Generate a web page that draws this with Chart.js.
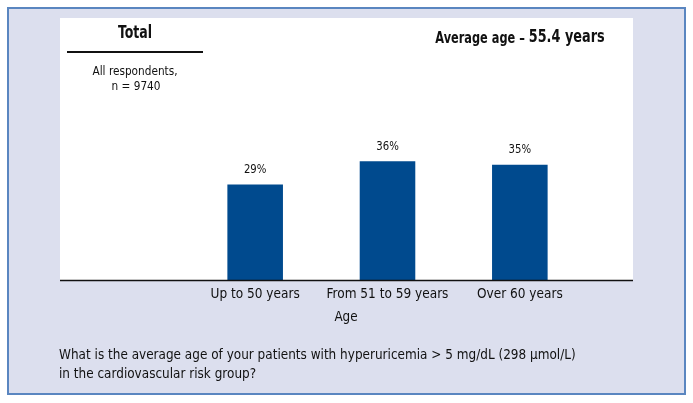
<!DOCTYPE html>
<html>
<head>
<meta charset="utf-8">
<script src="https://cdn.jsdelivr.net/npm/chart.js@4.4.1/dist/chart.umd.min.js"></script>
<style>
  html, body { margin: 0; padding: 0; background: #ffffff; }
  #wrap { width: 693px; height: 403px; position: relative; }
</style>
</head>
<body>
<div id="wrap"><canvas id="ageChart" width="693" height="403"></canvas></div>
<script>
// values
const ageGroups = ['Up to 50 years', 'From 51 to 59 years', 'Over 60 years'];
const shareOfPatients = [29, 36, 35];
const axisTitle = 'Age';
const panelTitle = 'Total';
const panelNote = ['All respondents,', 'n = 9740'];
const averageLabel = ['Average age \u2013 ', '55.4 years'];
const questionLines = [
    'What is the average age of your patients with hyperuricemia > 5 mg/dL (298 \u03bcmol/L)',
    'in the cardiovascular risk group?'
];

const fontFam = "'Liberation Sans Narrow', 'DejaVu Sans Condensed', 'Arial Narrow', sans-serif";
const barBlue = '#004a8e';
const lavender = '#dcdfee';

Chart.defaults.font.family = fontFam;
Chart.defaults.color = '#1a1a1a';

// text squeezed horizontally, the original uses a narrow face
function narrowText(c, txt, x, y, font, squeeze, align) {
    c.save();
    c.font = font;
    const w = c.measureText(txt).width * squeeze;
    let left = x;
    if (align === 'center') left = x - w / 2;
    c.translate(left, y);
    c.scale(squeeze, 1);
    c.textAlign = 'left';
    c.fillText(txt, 0, 0);
    c.restore();
    return w;
}

// frame, white panel, baseline and the free text around the plot
const frame = {
    id: 'frame',
    beforeDraw(chart) {
        const c = chart.ctx;
        c.save();
        c.fillStyle = '#ffffff';
        c.fillRect(0, 0, chart.width, chart.height);
        c.fillStyle = lavender;
        c.fillRect(8, 8, 677, 386);
        c.strokeStyle = '#5a86c0';
        c.lineWidth = 2;
        c.strokeRect(8, 8, 677, 386);
        c.fillStyle = '#ffffff';
        c.fillRect(60, 18, 573, 262);
        c.restore();
    },
    afterDraw(chart) {
        const c = chart.ctx;
        c.save();
        // baseline
        c.strokeStyle = '#111';
        c.lineWidth = 1.5;
        c.beginPath();
        c.moveTo(60, 280.5);
        c.lineTo(633, 280.5);
        c.stroke();
        // rule under "Total"
        c.lineWidth = 2;
        c.beginPath();
        c.moveTo(67, 52);
        c.lineTo(203, 52);
        c.stroke();

        c.fillStyle = '#111';
        c.textBaseline = 'middle';
        narrowText(c, panelTitle, 135, 34, 'bold 17px ' + fontFam, 0.82, 'center');
        narrowText(c, panelNote[0], 135, 72, '13px ' + fontFam, 0.9, 'center');
        narrowText(c, panelNote[1], 136, 87, '13px ' + fontFam, 0.9, 'center');

        // average age, two sizes
        c.font = 'bold 15px ' + fontFam;
        const w1 = c.measureText(averageLabel[0]).width * 0.84;
        c.font = 'bold 17px ' + fontFam;
        const w2 = c.measureText(averageLabel[1]).width * 0.84;
        const x = 520 - (w1 + w2) / 2;
        narrowText(c, averageLabel[0], x, 39, 'bold 15px ' + fontFam, 0.84, 'left');
        narrowText(c, averageLabel[1], x + w1, 38, 'bold 17px ' + fontFam, 0.84, 'left');

        // axis title sits left of centre in the original
        narrowText(c, axisTitle, 346, 317, '14.5px ' + fontFam, 0.92, 'center');

        // question
        narrowText(c, questionLines[0], 59, 355, '14.5px ' + fontFam, 0.925, 'left');
        narrowText(c, questionLines[1], 59, 374, '14.5px ' + fontFam, 0.925, 'left');
        c.restore();
    }
};

// value labels above the bars
const barLabels = {
    id: 'barLabels',
    afterDatasetsDraw(chart) {
        const c = chart.ctx;
        const meta = chart.getDatasetMeta(0);
        c.save();
        c.fillStyle = '#111';
        c.textBaseline = 'middle';
        meta.data.forEach((bar, i) => {
            narrowText(c, shareOfPatients[i] + '%', bar.x, bar.y - 15, '12.5px ' + fontFam, 0.9, 'center');
        });
        c.restore();
    }
};

new Chart(document.getElementById('ageChart'), {
    type: 'bar',
    data: {
        labels: ageGroups,
        datasets: [{
            data: shareOfPatients,
            backgroundColor: barBlue,
            borderWidth: 0,
            barPercentage: 0.42,
            categoryPercentage: 1
        }]
    },
    options: {
        responsive: false,
        animation: false,
        devicePixelRatio: 1,
        layout: {
            padding: { left: 189, right: 107, top: 18, bottom: 0 }
        },
        plugins: {
            legend: { display: false },
            tooltip: { enabled: false }
        },
        scales: {
            x: {
                grid: { display: false, drawTicks: false },
                border: { display: false },
                ticks: {
                    font: { size: 13.5 },
                    color: '#111',
                    padding: 6,
                    maxRotation: 0,
                    autoSkip: false
                },
                afterFit(scale) { scale.height = 123; }
            },
            y: {
                display: false,
                min: 0,
                max: 79.5
            }
        }
    },
    plugins: [frame, barLabels]
});
</script>
</body>
</html>
